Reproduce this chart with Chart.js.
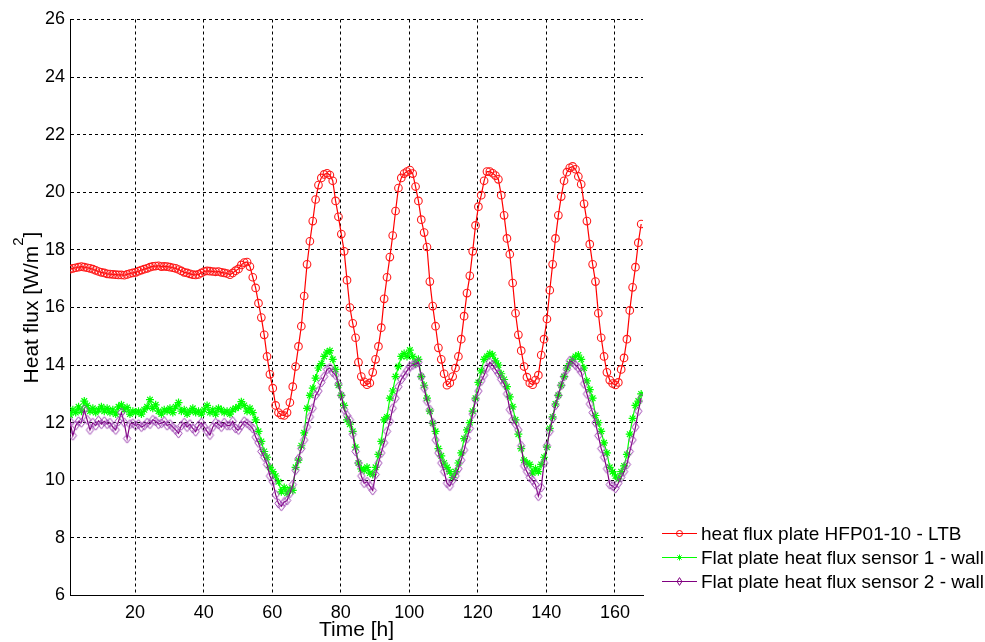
<!DOCTYPE html>
<html>
<head>
<meta charset="utf-8">
<script src="https://cdn.jsdelivr.net/npm/chart.js@4/dist/chart.umd.min.js"></script>
<style>
  html, body { margin: 0; padding: 0; background: #fff; }
  #wrap { width: 985px; height: 642px; }
</style>
</head>
<body>
<div id="wrap"><canvas id="grafico" width="985" height="642"></canvas></div>
<script>
// heat flux plate HFP01-10 - LTB  [W/m2]
const heatFluxPlate = [
  17.33, 17.36, 17.38, 17.40, 17.42, 17.40,
  17.38, 17.36, 17.33, 17.29, 17.25, 17.22,
  17.20, 17.17, 17.16, 17.15, 17.14, 17.13,
  17.13, 17.12, 17.15, 17.18, 17.20, 17.22,
  17.26, 17.30, 17.33, 17.36, 17.40, 17.43,
  17.44, 17.45, 17.42, 17.43, 17.42, 17.40,
  17.38, 17.36, 17.32, 17.27, 17.22, 17.20,
  17.17, 17.14, 17.13, 17.15, 17.20, 17.25,
  17.27, 17.26, 17.25, 17.24, 17.25, 17.22,
  17.20, 17.18, 17.14, 17.20, 17.28, 17.34,
  17.48, 17.56, 17.58, 17.42, 17.05, 16.68,
  16.15, 15.65, 15.05, 14.30, 13.68, 13.20,
  12.60, 12.35, 12.27, 12.25, 12.35, 12.70,
  13.25, 13.95, 14.65, 15.35, 16.40, 17.50,
  18.30, 19.00, 19.75, 20.25, 20.50, 20.62,
  20.66, 20.60, 20.40, 19.70, 19.15, 18.55,
  17.95, 16.95, 16.00, 15.45, 14.95, 14.10,
  13.60, 13.42, 13.32, 13.38, 13.75, 14.20,
  14.65, 15.30, 16.30, 17.05, 17.75, 18.50,
  19.35, 20.15, 20.50, 20.65, 20.72, 20.77,
  20.65, 20.20, 19.70, 19.05, 18.60, 18.10,
  16.90, 16.05, 15.35, 14.60, 14.20, 13.70,
  13.30, 13.38, 13.60, 13.90, 14.30, 14.90,
  15.70, 16.50, 17.10, 17.95, 18.85, 19.50,
  19.90, 20.40, 20.72, 20.72, 20.66, 20.58,
  20.45, 19.90, 19.20, 18.40, 17.85, 16.85,
  15.80, 15.05, 14.50, 13.95, 13.58, 13.38,
  13.32, 13.48, 13.65, 14.35, 14.90, 15.60,
  16.60, 17.50, 18.40, 19.20, 19.85, 20.40,
  20.70, 20.85, 20.90, 20.80, 20.55, 20.28,
  19.60, 19.00, 18.20, 17.50, 16.90, 15.80,
  14.95, 14.30, 13.75, 13.48, 13.36, 13.31,
  13.40, 13.85, 14.25, 14.90, 15.90, 16.70,
  17.40, 18.25, 18.90
];

// Flat plate heat flux sensor 1 - wall
const sensor1 = [
  12.27, 12.45, 12.35, 12.55, 12.40, 12.75,
  12.60, 12.40, 12.50, 12.35, 12.45, 12.55,
  12.40, 12.50, 12.35, 12.45, 12.30, 12.55,
  12.62, 12.45, 12.53, 12.30, 12.40, 12.35,
  12.40, 12.30, 12.45, 12.55, 12.80, 12.50,
  12.62, 12.40, 12.30, 12.45, 12.40, 12.50,
  12.35, 12.55, 12.70, 12.40, 12.45, 12.30,
  12.40, 12.50, 12.35, 12.40, 12.30, 12.45,
  12.60, 12.35, 12.45, 12.30, 12.50, 12.45,
  12.35, 12.40, 12.30, 12.45, 12.50, 12.55,
  12.73, 12.60, 12.40, 12.50, 12.35, 12.10,
  11.70, 11.35, 11.00, 10.80, 10.45, 10.30,
  10.15, 9.95, 9.60, 9.75, 9.55, 9.70,
  9.65, 10.45, 10.70, 11.20, 11.65, 12.50,
  12.95, 13.20, 13.55, 13.90, 14.05, 14.30,
  14.45, 14.50, 14.20, 13.85, 13.30, 12.95,
  12.60, 12.10, 11.95, 11.70, 11.15, 10.60,
  10.40, 10.35, 10.45, 10.25, 10.20, 10.45,
  10.90, 11.35, 12.10, 12.20, 12.85, 13.10,
  13.60, 13.95, 14.30, 14.40, 14.30, 14.52,
  14.30, 14.05, 14.20, 13.60, 13.30, 12.85,
  12.40, 11.98, 11.70, 11.10, 10.85, 10.60,
  10.45, 10.30, 10.10, 10.30, 10.60, 10.95,
  11.45, 11.75, 12.00, 12.40, 12.85, 13.40,
  13.80, 14.20, 14.30, 14.40, 14.35, 14.15,
  14.00, 13.70, 13.50, 13.25, 12.90, 12.55,
  12.10, 11.60, 11.10, 10.70, 10.60, 10.55,
  10.25, 10.40, 10.30, 10.55, 10.80, 11.15,
  11.80, 12.20, 12.65, 12.95, 13.30, 13.60,
  13.90, 14.05, 14.20, 14.30, 14.35, 14.20,
  13.90, 13.45, 13.15, 12.85, 12.25, 12.00,
  11.70, 11.30, 10.95, 10.45, 10.30, 10.15,
  10.05, 10.30, 10.50, 10.90, 11.60, 12.15,
  12.60, 12.75, 13.00
];

// Flat plate heat flux sensor 2 - wall
const sensor2 = [
  12.05, 11.55, 11.90, 12.05, 12.00, 12.45,
  12.10, 11.75, 12.00, 11.90, 12.07, 11.95,
  12.05, 11.95, 12.00, 11.85, 11.75, 12.05,
  12.35, 12.00, 11.45, 11.95, 11.98, 11.90,
  11.95, 11.85, 11.90, 12.00, 11.95, 12.10,
  12.05, 11.95, 11.98, 12.05, 11.90, 11.95,
  11.85, 11.75, 11.63, 11.90, 12.00, 11.85,
  11.95, 11.80, 11.69, 11.90, 12.00, 11.85,
  11.70, 11.57, 11.85, 12.00, 11.94, 11.85,
  12.00, 11.90, 11.90, 12.05, 11.80, 11.75,
  11.90, 12.05, 11.98, 11.90, 11.80, 11.50,
  11.30, 11.00, 10.80, 10.55, 10.15, 9.95,
  9.50, 9.20, 9.10, 9.25, 9.30, 9.55,
  9.85, 10.35, 10.75, 11.10, 11.40, 11.85,
  12.20, 12.50, 12.95, 13.10, 13.40, 13.60,
  13.85, 13.90, 13.75, 13.65, 13.35, 12.95,
  12.45, 12.25, 12.10, 11.60, 11.00, 10.60,
  10.15, 9.90, 9.95, 9.80, 9.65, 10.20,
  10.60, 10.95, 11.30, 11.70, 12.05, 12.50,
  12.85, 13.25, 13.50, 13.65, 13.80, 13.95,
  14.00, 14.05, 14.10, 13.60, 13.20, 12.75,
  12.45, 12.00, 11.40, 10.95, 10.60, 10.30,
  9.90, 9.80, 10.00, 10.15, 10.40, 10.70,
  11.05, 11.45, 11.80, 12.30, 12.80, 13.10,
  13.45, 13.65, 13.90, 14.10, 14.00, 13.85,
  13.70, 13.50, 13.35, 13.00, 12.45, 12.10,
  11.95, 11.75, 11.20, 10.50, 10.30, 10.10,
  10.00, 9.85, 9.45, 9.75, 10.60, 11.20,
  11.70, 12.15, 12.60, 12.95, 13.30, 13.60,
  13.85, 14.15, 14.10, 14.00, 13.90, 13.75,
  13.35, 13.00, 12.65, 12.35, 12.00, 11.55,
  11.10, 10.80, 10.40, 9.85, 9.80, 9.72,
  9.90, 10.10, 10.30, 10.55, 11.00, 11.40,
  11.85, 12.40, 12.85
];

// samples every 50 min, starting at t = 1 h
const hours = heatFluxPlate.map((_, i) => 1 + i * 5 / 6);

const xTicks = [20, 40, 60, 80, 100, 120, 140, 160];
const yTicks = [6, 8, 10, 12, 14, 16, 18, 20, 22, 24, 26];

const labels = [
  "heat flux plate HFP01-10 - LTB",
  "Flat plate heat flux sensor 1 - wall",
  "Flat plate heat flux sensor 2 - wall"
];

const FONT = "'Liberation Sans', Arial, sans-serif";

function puntos(valores) {
  return valores.map((v, i) => ({ x: hours[i], y: v }));
}

// rombo algo mas alto que ancho, como el de MATLAB
function rombo(color, hw, hh) {
  const c = document.createElement("canvas");
  c.width = Math.ceil(hw * 2 + 3);
  c.height = Math.ceil(hh * 2 + 3);
  const g = c.getContext("2d");
  const cx = c.width / 2, cy = c.height / 2;
  g.strokeStyle = color;
  g.lineWidth = 1;
  g.beginPath();
  g.moveTo(cx, cy - hh);
  g.lineTo(cx + hw, cy);
  g.lineTo(cx, cy + hh);
  g.lineTo(cx - hw, cy);
  g.closePath();
  g.stroke();
  return c;
}

const romboGrande = rombo("#9a3fb0", 3.6, 4.6);

// marcador pequeño para la leyenda
function marcador(ctx, estilo, x, y, r) {
  ctx.beginPath();
  if (estilo === "circle") {
    ctx.arc(x, y, r, 0, Math.PI * 2);
  } else if (estilo === "star") {
    for (let k = 0; k < 4; k++) {
      const a = k * Math.PI / 4;
      ctx.moveTo(x - Math.cos(a) * r, y - Math.sin(a) * r);
      ctx.lineTo(x + Math.cos(a) * r, y + Math.sin(a) * r);
    }
  } else {
    ctx.moveTo(x, y - r * 1.3);
    ctx.lineTo(x + r * 0.8, y);
    ctx.lineTo(x, y + r * 1.3);
    ctx.lineTo(x - r * 0.8, y);
    ctx.closePath();
  }
  ctx.stroke();
}

const leyenda = {
  id: "leyenda",
  afterDraw(chart) {
    const ctx = chart.ctx;
    const estilos = ["circle", "star", "diamond"];
    ctx.save();
    chart.data.datasets.forEach((ds, fila) => {
      const y = 533.5 + fila * 24;
      ctx.strokeStyle = ds.borderColor;
      ctx.lineWidth = 1;
      ctx.beginPath();
      ctx.moveTo(662, y);
      ctx.lineTo(697, y);
      ctx.stroke();
      marcador(ctx, estilos[fila], 679.5, y, 3);
      ctx.fillStyle = "#000";
      ctx.font = "19px " + FONT;
      ctx.textBaseline = "middle";
      ctx.textAlign = "left";
      ctx.fillText(ds.label, 701, y + 1);
    });
    ctx.restore();
  }
};

// titulo del eje y con superindice
const tituloY = {
  id: "tituloY",
  afterDraw(chart) {
    const ctx = chart.ctx;
    const area = chart.chartArea;
    const parte1 = "Heat flux [W/m";
    const sup = "2";
    const parte2 = "]";
    ctx.save();
    ctx.fillStyle = "#000";
    ctx.font = "21px " + FONT;
    const w1 = ctx.measureText(parte1).width;
    const w3 = ctx.measureText(parte2).width;
    ctx.font = "15px " + FONT;
    const w2 = ctx.measureText(sup).width;
    const total = w1 + w2 + w3;
    const cy = (area.top + area.bottom) / 2;
    ctx.translate(38, cy);
    ctx.rotate(-Math.PI / 2);
    ctx.textBaseline = "alphabetic";
    ctx.textAlign = "left";
    const x0 = -total / 2;
    ctx.font = "21px " + FONT;
    ctx.fillText(parte1, x0, 0);
    ctx.font = "15px " + FONT;
    ctx.fillText(sup, x0 + w1, -15);
    ctx.font = "21px " + FONT;
    ctx.fillText(parte2, x0 + w1 + w2, 0);
    ctx.restore();
  }
};

const ctx = document.getElementById("grafico").getContext("2d");

const grafico = new Chart(ctx, {
  type: "line",
  data: {
    datasets: [{
      label: labels[0],
      data: puntos(heatFluxPlate),
      borderColor: "#ff0000",
      backgroundColor: "rgba(0,0,0,0)",
      borderWidth: 1.2,
      pointStyle: "circle",
      pointRadius: 3.8,
      pointBorderWidth: 1.1,
      pointBorderColor: "#ff1a1a",
      pointBackgroundColor: "rgba(0,0,0,0)",
      tension: 0,
      order: 2
    }, {
      label: labels[1],
      data: puntos(sensor1),
      borderColor: "#00ff00",
      backgroundColor: "rgba(0,0,0,0)",
      borderWidth: 1.2,
      pointStyle: "star",
      pointRadius: 4,
      pointBorderWidth: 1.2,
      pointBorderColor: "#00ff00",
      pointBackgroundColor: "rgba(0,0,0,0)",
      tension: 0,
      order: 1
    }, {
      label: labels[2],
      data: puntos(sensor2),
      borderColor: "#800080",
      backgroundColor: "rgba(0,0,0,0)",
      borderWidth: 1.2,
      pointStyle: romboGrande,
      pointRadius: 4,
      pointBorderWidth: 1,
      pointBorderColor: "#9a3fb0",
      pointBackgroundColor: "rgba(0,0,0,0)",
      tension: 0,
      order: 0
    }]
  },
  options: {
    responsive: false,
    animation: false,
    devicePixelRatio: 1,
    layout: {
      padding: { left: 0, right: 342, top: 19.5, bottom: 0 }
    },
    plugins: {
      legend: { display: false },
      tooltip: { enabled: false }
    },
    scales: {
      x: {
        type: "linear",
        min: 1,
        max: 168.2,
        afterBuildTicks: (scale) => {
          scale.ticks = xTicks.map(v => ({ value: v }));
        },
        afterFit: (scale) => { scale.height = 46.5; },
        grid: {
          color: "#000",
          lineWidth: 1,
          drawTicks: false
        },
        border: { display: true, color: "#000", width: 1, dash: [3, 3] },
        ticks: {
          color: "#000",
          padding: 7,
          maxRotation: 0,
          font: { family: FONT, size: 18 },
          callback: (v) => v
        },
        title: {
          display: true,
          text: "Time [h]",
          color: "#000",
          padding: { top: 0, bottom: -1 },
          font: { family: FONT, size: 21 }
        }
      },
      y: {
        min: 6,
        max: 26,
        afterBuildTicks: (scale) => {
          scale.ticks = yTicks.map(v => ({ value: v }));
        },
        afterFit: (scale) => { scale.width = 70; },
        grid: {
          color: "#000",
          lineWidth: 1,
          drawTicks: false
        },
        border: { display: true, color: "#000", width: 1, dash: [3, 3] },
        ticks: {
          color: "#000",
          padding: 5,
          font: { family: FONT, size: 18 },
          callback: (v) => v
        }
      }
    }
  },
  plugins: [leyenda, tituloY]
});
</script>
</body>
</html>
